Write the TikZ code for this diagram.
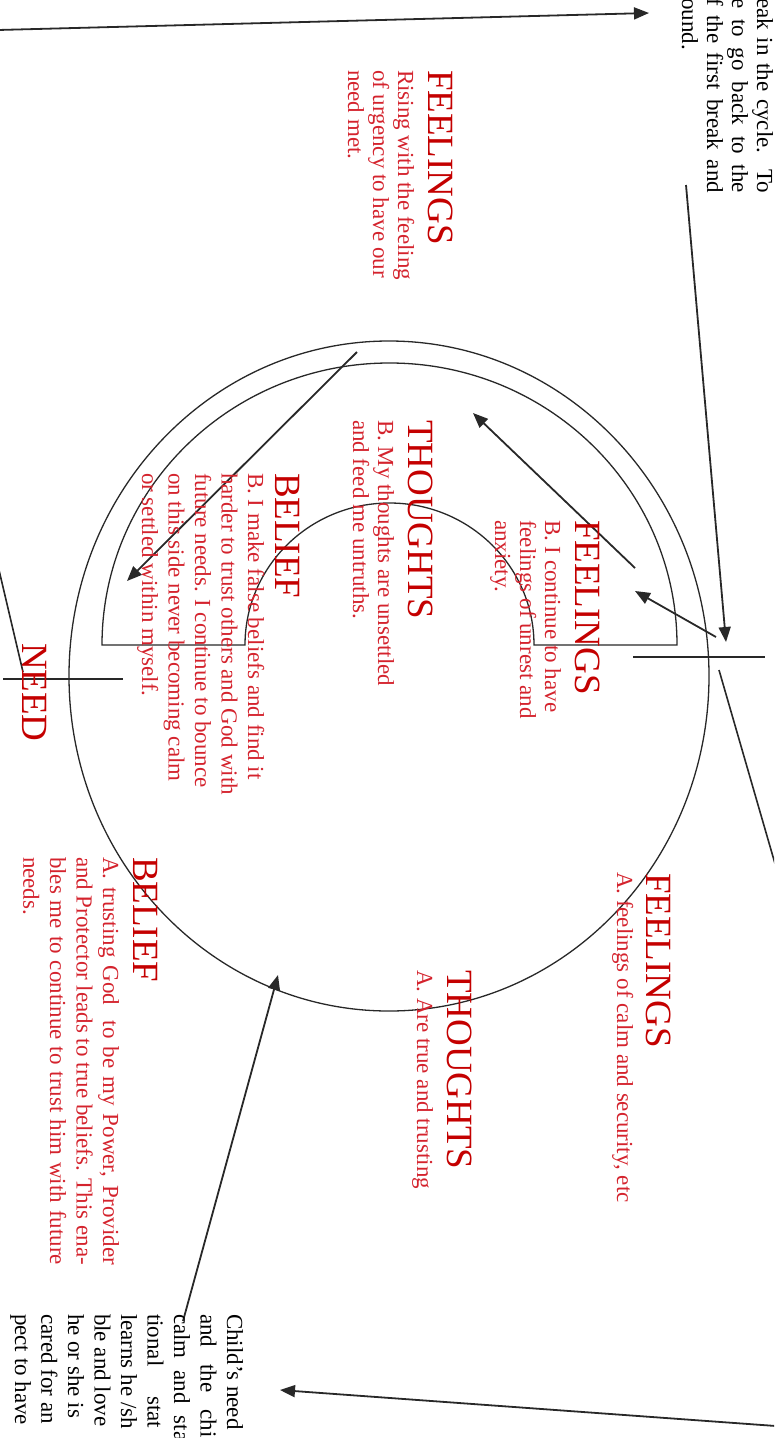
\documentclass[tikz,border=0pt]{standalone}
\usepackage{fontspec}
\setmainfont{Liberation Serif}
\usetikzlibrary{arrows.meta}
\definecolor{headred}{RGB}{196,0,0}
\definecolor{bodyred}{RGB}{212,35,45}
\definecolor{ink}{RGB}{40,40,40}
\tikzset{
  rot/.style={rotate=-90, inner sep=0pt, outer sep=0pt, anchor=base west},
  head/.style={rot, text=headred, font=\fontsize{37}{40}\selectfont},
  body/.style={rot, text=bodyred, font=\fontsize{23}{26}\selectfont},
  blk/.style={rot, text=black, font=\fontsize{23}{26}\selectfont},
  shapeline/.style={draw=ink, line width=1.3pt},
  arr/.style={draw=ink, line width=1.8pt, -{Triangle[length=15pt,width=12pt]}},
  plainline/.style={draw=ink, line width=1.6pt},
}
\newcommand{\mylines}[6]{\foreach \t [count=\i] in {#6}{\node[#5] (#1\i) at ({#2-(\i-1)*#4},#3) {\t};}}
\begin{document}
\begin{tikzpicture}[x=1pt,y=-1pt]
\useasboundingbox (0,0) rectangle (774,1438);
\clip (0,0) rectangle (774,1438);

% big circle (slightly oval)
\draw[shapeline] (389,676) ellipse [x radius=320pt, y radius=335pt];
% D shaped half ring
\draw[shapeline] (102,645) arc [start angle=180, end angle=0, x radius=287.5pt, y radius=282pt]
  -- (534,645) arc [start angle=0, end angle=180, x radius=144.5pt, y radius=142pt] -- cycle;

% crossing lines
\coordinate (crA1) at (633,657); \coordinate (crA2) at (765,657);
\coordinate (crB1) at (3,679);   \coordinate (crB2) at (123,679);
\draw[plainline] (crA1) -- (crA2);
\draw[plainline] (crB1) -- (crB2);

% arrows and connectors
\coordinate (a1s) at (-2,30);    \coordinate (a1e) at (649,13);
\coordinate (a2s) at (686,185);  \coordinate (a2e) at (726,642);
\coordinate (a3s) at (719,670);  \coordinate (a3e) at (778,874);
\coordinate (a4s) at (716,637);  \coordinate (a4e) at (635,591);
\coordinate (a5s) at (635,568);  \coordinate (a5e) at (473,413);
\coordinate (a6s) at (357,352);  \coordinate (a6e) at (127,581);
\coordinate (a7s) at (-1,570);   \coordinate (a7e) at (23,672);
\coordinate (a8s) at (183,1321); \coordinate (a8e) at (278,975);
\coordinate (a9s) at (776,1426); \coordinate (a9e) at (280,1390);
\draw[arr] (a1s) -- (a1e);
\draw[arr] (a2s) -- (a2e);
\draw[plainline] (a3s) -- (a3e);
\draw[arr] (a4s) -- (a4e);
\draw[arr] (a5s) -- (a5e);
\draw[arr] (a6s) -- (a6e);
\draw[plainline] (a7s) -- (a7e);
\draw[arr] (a8s) -- (a8e);
\draw[arr] (a9s) -- (a9e);

% outer FEELINGS
\node[head] (fo) at (428,70) {FEELINGS};
\mylines{fob}{398}{70}{25}{body}{{Rising with the feeling},{of urgency to have our},{need met.}}

% FEELINGS B
\node[head] (fb) at (575,520) {FEELINGS};
\mylines{fbb}{545}{520}{25}{body}{{B. I continue to have},{feelings of unrest and},{anxiety.}}

% THOUGHTS B
\node[head] (tb) at (408,420) {THOUGHTS};
\mylines{tbb}{378}{420}{25}{body}{{B. My thoughts are unsettled},{and feed me untruths.}}

% BELIEF B
\node[head] (bb) at (275,473) {BELIEF};
\mylines{bbb}{248}{473}{26.5}{body}{{B. I make false beliefs and find it},{harder to trust others and God with},{future needs. I continue to bounce},{on this side never becoming calm},{or settled within myself.}}

% NEED
\node[head] (need) at (23,643) {NEED};

% FEELINGS A
\node[head] (fa) at (646,873) {FEELINGS};
\node[body] (fab) at (617,872) {A. feelings of calm and security, etc};

% THOUGHTS A
\node[head] (ta) at (447,970) {THOUGHTS};
\node[body] (tab) at (417,970) {A. Are true and trusting};

% BELIEF A
\node[head] (ba) at (133,857) {BELIEF};
\mylines{bab}{103}{857}{26.5}{body}{{\makebox[408pt][s]{A. trusting God\ \ to be my Power, Provider}},{\makebox[408pt][s]{and Protector leads to true beliefs. This ena-}},{\makebox[408pt][s]{bles me to continue to trust him with future}},{needs.}}

% black text, top right
\mylines{tr}{757}{-2}{25}{blk}{{\makebox[195pt][s]{eak in the cycle.\ \ To}},{\makebox[195pt][s]{e to go back to the}},{\makebox[195pt][s]{f the first break and}},{ound.}}

% black text, bottom left
\mylines{bl}{227}{1314}{26.5}{blk}{{Child’s need},{and\hspace{17pt}the\hspace{17pt}chi},{calm\hspace{12pt}and\hspace{12pt}sta},{tional\hspace{30pt}stat},{learns he /sh},{ble and love},{he or she is},{cared for an},{pect to have}}
\end{tikzpicture}
\end{document}
